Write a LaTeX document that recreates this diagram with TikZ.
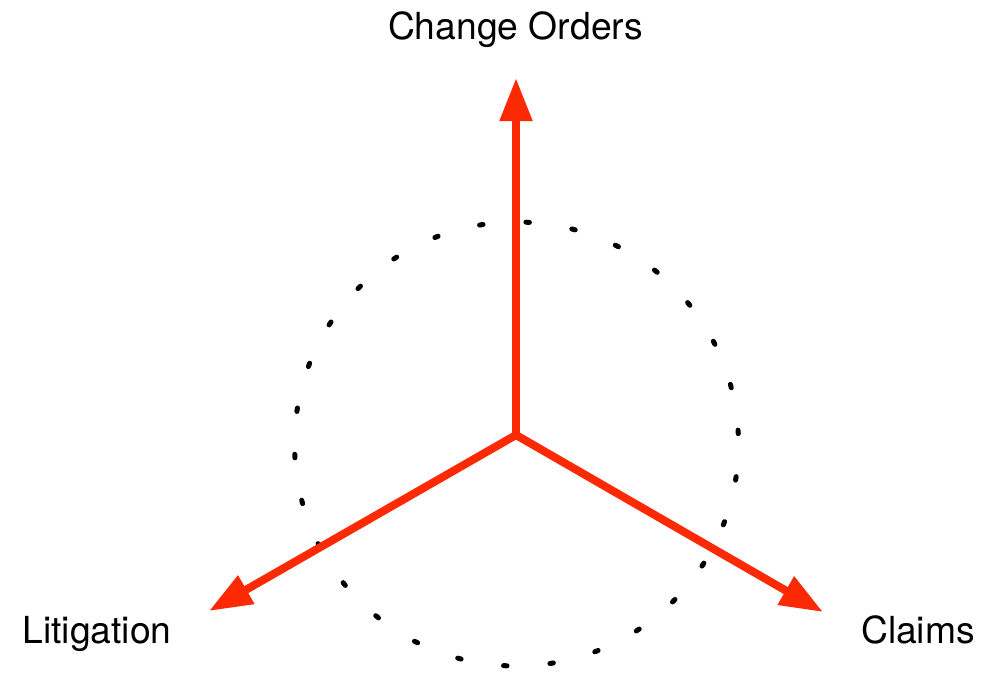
\documentclass[tikz,border=0pt]{standalone}
\usepackage{fontspec}
\setmainfont{TeX Gyre Heros}
\usetikzlibrary{arrows.meta}
\definecolor{arrowRed}{RGB}{252,42,4}

\begin{document}
\begin{tikzpicture}[>={Triangle[length=4.3mm,width=3.1mm]}, line cap=round,
  spoke/.style={arrowRed, line width=0.8mm, ->},
  tag/.style={anchor=base, inner sep=0pt, font=\fontsize{10.6}{12}\selectfont}]
\useasboundingbox (0,0) rectangle (9.82,6.72);
% ---------- 虚线圆 ----------
\draw[line width=0.5mm, dash pattern=on 0.035cm off 0.42996cm, dash phase=0.3613cm]
  (5.165,2.28) circle (2.22);
% ---------- 三个方向 ----------
\coordinate (hub) at (5.16,2.37);
\coordinate (tipUp) at (5.16,5.94);
\coordinate (tipLeft) at (2.09,0.61);
\coordinate (tipRight) at (8.23,0.60);
\draw[spoke] (hub) -- (tipUp);
\draw[spoke] (hub) -- (tipLeft);
\draw[spoke] (hub) -- (tipRight);
% 标签
\node[tag] (change) at (5.155,6.32) {Change Orders};
\node[tag] (litig) at (0.97,0.29) {Litigation};
\node[tag] (claims) at (9.18,0.29) {Claims};
\end{tikzpicture}
\end{document}
